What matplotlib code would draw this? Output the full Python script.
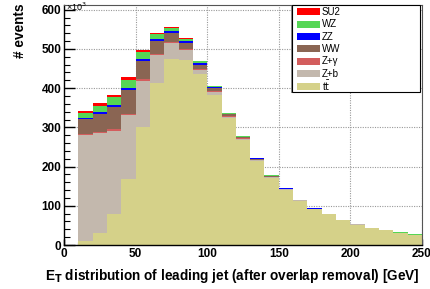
import numpy as np
import matplotlib
matplotlib.use("Agg")
import matplotlib.pyplot as plt
from matplotlib.patches import Rectangle
from matplotlib.ticker import MultipleLocator

plt.rcParams['font.family'] = ['Liberation Sans', 'DejaVu Sans']

# bin edges in GeV (10 GeV bins from 0 to 250)
bin_edges = np.arange(0, 251, 10)

# stacked contributions per bin (units of 10^3 events), bottom to top
ttbar = [0, 11, 31, 79, 168, 300, 414, 475, 473, 436, 382, 323, 268, 215, 172,
         141, 113, 91.5, 78, 62.5, 51.8, 43, 37, 31.2, 26.3]
zb = [0, 269, 254, 212, 164, 119, 70, 40, 25, 11, 9, 4, 3, 2, 1.5,
      1, 1, 0.5, 1, 0.3, 0.6, 0.3, 0.2, 0.3, 0.2]
zgamma = [0, 3, 2, 4, 3, 4, 3, 3, 2, 2, 1, 1, 1, 0.5, 0.5,
          0.3, 0.3, 0.2, 0.1, 0.4, 0.1, 0.4, 0.6, 0, 0]
ww = [0, 38, 48, 58, 60, 46, 33, 23, 16, 11, 8, 5, 3, 3, 2,
      1, 1.2, 0.8, 0.7, 0.7, 0.1, 0.2, 0, 0, 0]
zz = [0, 3, 3, 4, 6, 5, 5, 4, 3, 3, 2, 1, 1, 1, 1,
      1.2, 0.2, 0.8, 0.1, 0, 0.3, 0, 0, 0, 0]
wz = [0, 12, 17, 20, 21, 17, 12, 8, 6, 5, 3, 2, 1.5, 1, 0.5,
      0.3, 0.2, 0.1, 0.05, 0.05, 0.05, 0, 0.1, 0.5, 0.5]
su2 = [0, 6, 7, 6, 6, 5, 3, 3, 2, 2, 1, 1, 0.5, 0.5, 0.5,
       0.2, 0.1, 0.1, 0.05, 0.05, 0.05, 0.1, 0.1, 0, 0]

labels = ['t$\\bar{\\mathrm{t}}$', 'Z+b', 'Z+\u03b3', 'WW', 'ZZ', 'WZ', 'SU2']
series = [ttbar, zb, zgamma, ww, zz, wz, su2]
colors = ['#d5d189', '#c3b8ad', '#d35d5d', '#8a6553', '#0000ff', '#55d655', '#ff0000']

W, H = 431, 289
fig = plt.figure(figsize=(W / 100, H / 100), dpi=100)
L, R, T, B = 64, 422, 5, 245
ax = fig.add_axes([L / W, 1 - B / H, (R - L) / W, (B - T) / H])

left = bin_edges[:-1]
width = np.diff(bin_edges)
bottom = np.zeros(len(left))
for vals, col in zip(series, colors):
    v = np.asarray(vals, dtype=float)
    ax.bar(left, v, width=width, bottom=bottom, align='edge', color=col,
           linewidth=0, zorder=2)
    bottom += v

ax.set_xlim(0, 250)
ax.set_ylim(0, 612)
ax.set_axisbelow(True)
ax.grid(True, which='major', linestyle=(0, (1, 1.2)), color='#999999', linewidth=0.8)

ax.xaxis.set_major_locator(MultipleLocator(50))
ax.xaxis.set_minor_locator(MultipleLocator(10))
ax.yaxis.set_major_locator(MultipleLocator(100))
ax.yaxis.set_minor_locator(MultipleLocator(20))
ax.tick_params(axis='y', which='major', direction='in', length=8, width=1,
               labelsize=8.5, pad=2, right=False)
ax.tick_params(axis='y', which='minor', direction='in', length=4, width=0.8, right=False)
ax.tick_params(axis='x', which='major', direction='in', length=4, width=1,
               labelsize=8.5, pad=2, top=False)
ax.tick_params(axis='x', which='minor', direction='in', length=2.5, width=0.8, top=False)
for lab in ax.get_xticklabels() + ax.get_yticklabels():
    lab.set_fontweight('bold')
for s in ['left', 'bottom']:
    ax.spines[s].set_linewidth(1.0)
for s in ['top', 'right']:
    ax.spines[s].set_linewidth(0.8)
    ax.spines[s].set_color('#555555')

fig.text(420 / W, 1 - 276 / H,
         'E$_\\mathbf{T}$ distribution of leading jet (after overlap removal) [GeV]',
         ha='right', va='center', fontsize=9.8, fontweight='bold')
fig.text(20 / W, 1 - 3 / H, '# events', rotation=90, ha='center', va='top',
         fontsize=9.8, fontweight='bold')
fig.text(66 / W, 1 - 0.5 / H, '\u00d710$^{3}$', ha='left', va='top', fontsize=6.5)

# legend box (ROOT style)
fx = lambda px: px / W
fy = lambda py: 1 - py / H
fig.add_artist(Rectangle((fx(292), fy(92)), (420 - 292) / W, (92 - 5) / H,
                         transform=fig.transFigure, facecolor='white',
                         edgecolor='black', linewidth=0.8, zorder=5))
fig.add_artist(Rectangle((fx(291), fy(93)), 1.2 / W, (93 - 6) / H,
                         transform=fig.transFigure, facecolor='#888888',
                         edgecolor='none', zorder=6))
leg_order = list(range(len(labels)))[::-1]
for i, k in enumerate(leg_order):
    cy = 11.7 + i * 12.4
    fig.add_artist(Rectangle((fx(297.5), fy(cy + 3.5)), 22.5 / W, 7 / H,
                             transform=fig.transFigure, facecolor=colors[k],
                             edgecolor='none', zorder=6))
    fig.text(fx(322), fy(cy), labels[k], ha='left', va='center', fontsize=7,
             zorder=7)

fig.savefig('out.png', dpi=100)
